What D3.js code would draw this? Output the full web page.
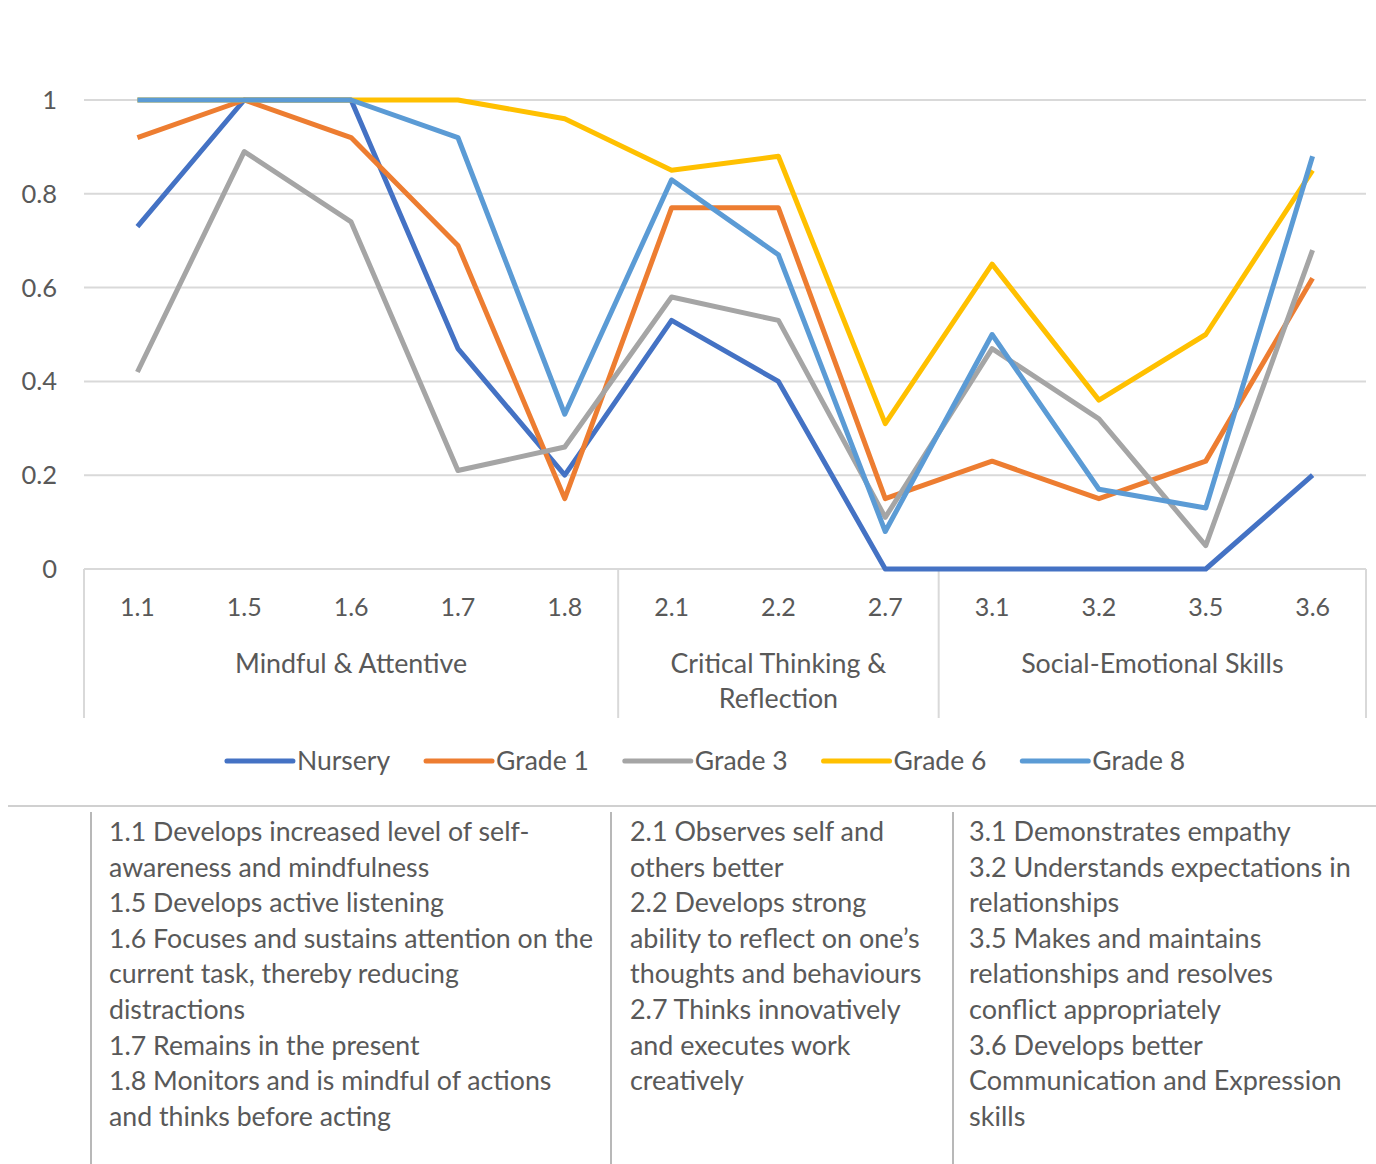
<!DOCTYPE html>
<html lang="en">
<head>
<meta charset="utf-8">
<title>Skills by grade</title>
<script src="https://d3js.org/d3.v7.min.js"></script>
<style>
  body { margin: 0; background: #fff; }
  svg text { font-family: Lato, "Open Sans", sans-serif; fill: #595959; }
</style>
</head>
<body>
<script>
// categories and groups
let categories = ["1.1", "1.5", "1.6", "1.7", "1.8", "2.1", "2.2", "2.7", "3.1", "3.2", "3.5", "3.6"];
let groupNames = [["Mindful & Attentive"], ["Critical Thinking &", "Reflection"], ["Social-Emotional Skills"]];
let groupSizes = [5, 3, 4];

// series values
let nursery = [0.73, 1, 1, 0.47, 0.20, 0.53, 0.40, 0, 0, 0, 0, 0.20];
let grade1  = [0.92, 1, 0.92, 0.69, 0.15, 0.77, 0.77, 0.15, 0.23, 0.15, 0.23, 0.62];
let grade3  = [0.42, 0.89, 0.74, 0.21, 0.26, 0.58, 0.53, 0.11, 0.47, 0.32, 0.05, 0.68];
let grade6  = [1, 1, 1, 1, 0.96, 0.85, 0.88, 0.31, 0.65, 0.36, 0.50, 0.85];
let grade8  = [1, 1, 1, 0.92, 0.33, 0.83, 0.67, 0.08, 0.50, 0.17, 0.13, 0.88];

let seriesNames = ["Nursery", "Grade 1", "Grade 3", "Grade 6", "Grade 8"];
let seriesColors = ["#4472C4", "#ED7D31", "#A5A5A5", "#FFC000", "#5B9BD5"];
let yTicks = [0, 0.2, 0.4, 0.6, 0.8, 1];

// description table below the chart
let notes1 = ["1.1 Develops increased level of self-", "awareness and mindfulness", "1.5 Develops active listening",
  "1.6 Focuses and sustains attention on the", "current task, thereby reducing", "distractions",
  "1.7 Remains in the present", "1.8 Monitors and is mindful of actions", "and thinks before acting"];
let notes2 = ["2.1 Observes self and", "others better", "2.2 Develops strong", "ability to reflect on one\u2019s",
  "thoughts and behaviours", "2.7 Thinks innovatively", "and executes work", "creatively"];
let notes3 = ["3.1  Demonstrates empathy", "3.2  Understands expectations in", "relationships",
  "3.5  Makes and maintains", "relationships and resolves", "conflict appropriately",
  "3.6  Develops better", "Communication and Expression", "skills"];

let w = 1376, h = 1164;
let plotLeft = 84, plotRight = 1366, plotTop = 100, plotBottom = 569;

let svg = d3.select("body").append("svg")
  .attr("width", w)
  .attr("height", h);

let x = d3.scaleBand().domain(categories).range([plotLeft, plotRight]).padding(0);
let y = d3.scaleLinear().domain([0, 1]).range([plotBottom, plotTop]);

// gridlines
svg.selectAll("line.grid")
  .data(yTicks)
  .enter()
  .append("line")
  .attr("x1", plotLeft).attr("x2", plotRight)
  .attr("y1", d => y(d)).attr("y2", d => y(d))
  .attr("stroke", "#d9d9d9")
  .attr("stroke-width", 2);

// y labels
svg.selectAll("text.ylab")
  .data(yTicks)
  .enter()
  .append("text")
  .attr("x", 57)
  .attr("y", d => y(d) + 9)
  .attr("text-anchor", "end")
  .attr("font-size", "25.5px")
  .text(d => d === 0 || d === 1 ? d : d3.format(".1f")(d));

// category labels
svg.selectAll("text.cat")
  .data(categories)
  .enter()
  .append("text")
  .attr("x", d => x(d) + x.bandwidth() / 2)
  .attr("y", 616)
  .attr("text-anchor", "middle")
  .attr("font-size", "25px")
  .text(d => d);

// group separators and labels
let starts = [0];
groupSizes.forEach((s, i) => starts.push(starts[i] + s));
let bounds = starts.map(i => i < categories.length ? x(categories[i]) : plotRight);
svg.selectAll("line.sep")
  .data(bounds)
  .enter()
  .append("line")
  .attr("x1", d => d).attr("x2", d => d)
  .attr("y1", plotBottom).attr("y2", 718)
  .attr("stroke", "#d9d9d9")
  .attr("stroke-width", 2);

groupNames.forEach((lines, i) => {
  let cx = (bounds[i] + bounds[i + 1]) / 2;
  lines.forEach((t, j) => {
    svg.append("text")
      .attr("x", cx)
      .attr("y", 673 + j * 35)
      .attr("text-anchor", "middle")
      .attr("font-size", "26.8px")
      .text(t);
  });
});

// lines
let allSeries = [nursery, grade1, grade3, grade6, grade8];
let line = d3.line()
  .x((d, i) => x(categories[i]) + x.bandwidth() / 2)
  .y(d => y(d));

svg.selectAll("path.series")
  .data(allSeries)
  .enter()
  .append("path")
  .attr("d", d => line(d))
  .attr("fill", "none")
  .attr("stroke", (d, i) => seriesColors[i])
  .attr("stroke-width", 5)
  .attr("stroke-linejoin", "round");

// legend
let legend = svg.append("g");
let lx = 0;
seriesNames.forEach((name, i) => {
  let g = legend.append("g").attr("transform", "translate(" + lx + ",0)");
  g.append("line")
    .attr("x1", 0).attr("x2", 66)
    .attr("y1", 0).attr("y2", 0)
    .attr("stroke", seriesColors[i])
    .attr("stroke-width", 5)
    .attr("stroke-linecap", "round");
  let t = g.append("text")
    .attr("x", 70)
    .attr("y", 9)
    .attr("font-size", "26.5px")
    .text(name);
  lx += 70 + t.node().getComputedTextLength() + 36;
});
lx -= 36;
legend.attr("transform", "translate(" + (706 - lx / 2) + ",761)");

// table
svg.append("line")
  .attr("x1", 8).attr("x2", w)
  .attr("y1", 806).attr("y2", 806)
  .attr("stroke", "#d0d0d0")
  .attr("stroke-width", 2);

[91, 611, 953].forEach(function (vx) {
  svg.append("line")
    .attr("x1", vx).attr("x2", vx)
    .attr("y1", 812).attr("y2", h)
    .attr("stroke", "#a0a0a0")
    .attr("stroke-width", 1.5);
});

let cols = [{ lines: notes1, x: 109, size: 26.7 }, { lines: notes2, x: 630, size: 26.9 }, { lines: notes3, x: 969, size: 27 }];
cols.forEach(function (c) {
  svg.selectAll(null)
    .data(c.lines)
    .enter()
    .append("text")
    .attr("x", c.x)
    .attr("y", (d, i) => 841 + i * 35.6)
    .attr("font-size", c.size + "px")
    .text(d => d);
});
</script>
</body>
</html>
